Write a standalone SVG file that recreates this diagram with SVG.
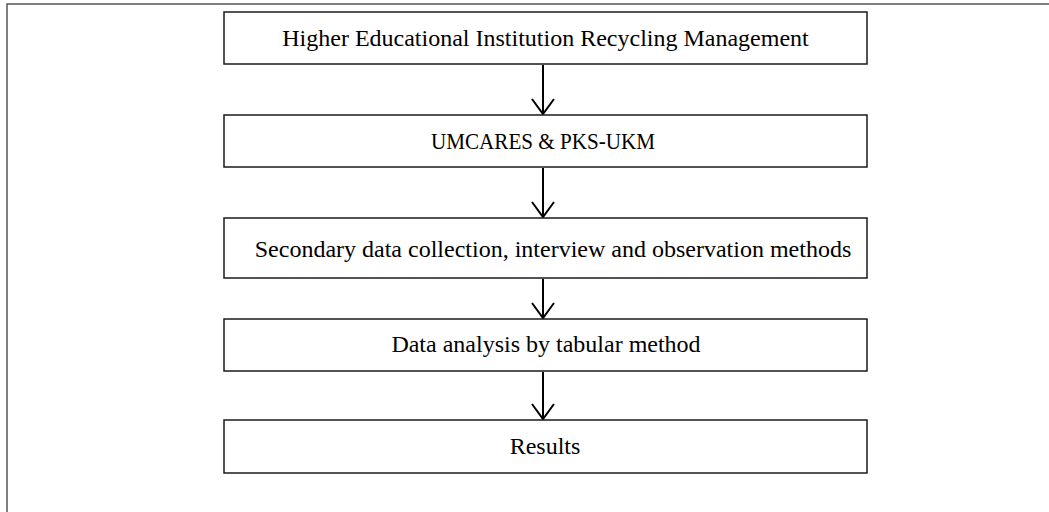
<svg xmlns="http://www.w3.org/2000/svg" width="1049" height="512" viewBox="0 0 1049 512">
  <style>
    .box { fill: #ffffff; stroke: #1a1a1a; stroke-width: 1.5; }
    .label { font-family: "Liberation Serif", "Times New Roman", serif; font-size: 24px; fill: #000000; text-anchor: middle; }
    .conn { stroke: #000000; stroke-width: 2; fill: none; }
  </style>
  <defs>
    <!-- open V arrowhead, drawn along +x so orient="auto" points it down the line -->
    <marker id="vhead" markerWidth="18" markerHeight="24" refX="16" refY="12" orient="auto" markerUnits="userSpaceOnUse" viewBox="0 0 18 24">
      <path d="M1 1 L16 12 L1 23" fill="none" stroke="#000000" stroke-width="2"/>
    </marker>
  </defs>
  <rect width="1049" height="512" fill="#ffffff"/>
  <!-- page frame -->
  <path d="M7 512 V4 H1049" fill="none" stroke="#555555" stroke-width="1.5"/>

  <g id="connectors">
    <line class="conn" x1="543" y1="65" x2="543" y2="114" marker-end="url(#vhead)"/>
    <line class="conn" x1="543" y1="168" x2="543" y2="217" marker-end="url(#vhead)"/>
    <line class="conn" x1="543" y1="279" x2="543" y2="318" marker-end="url(#vhead)"/>
    <line class="conn" x1="543" y1="372" x2="543" y2="419" marker-end="url(#vhead)"/>
  </g>

  <g id="node-hei">
    <rect class="box" x="224" y="12" width="643" height="52"/>
    <text class="label" x="545.5" y="46">Higher Educational Institution Recycling Management</text>
  </g>
  <g id="node-umcares">
    <rect class="box" x="224" y="115" width="643" height="52"/>
    <text class="label" x="543" y="149" textLength="224" lengthAdjust="spacingAndGlyphs">UMCARES &amp; PKS-UKM</text>
  </g>
  <g id="node-collection">
    <rect class="box" x="224" y="218" width="643" height="60"/>
    <text class="label" x="553" y="257">Secondary data collection, interview and observation methods</text>
  </g>
  <g id="node-analysis">
    <rect class="box" x="224" y="319" width="643" height="52"/>
    <text class="label" x="546" y="352">Data analysis by tabular method</text>
  </g>
  <g id="node-results">
    <rect class="box" x="224" y="420" width="643" height="53"/>
    <text class="label" x="545" y="454">Results</text>
  </g>
</svg>
